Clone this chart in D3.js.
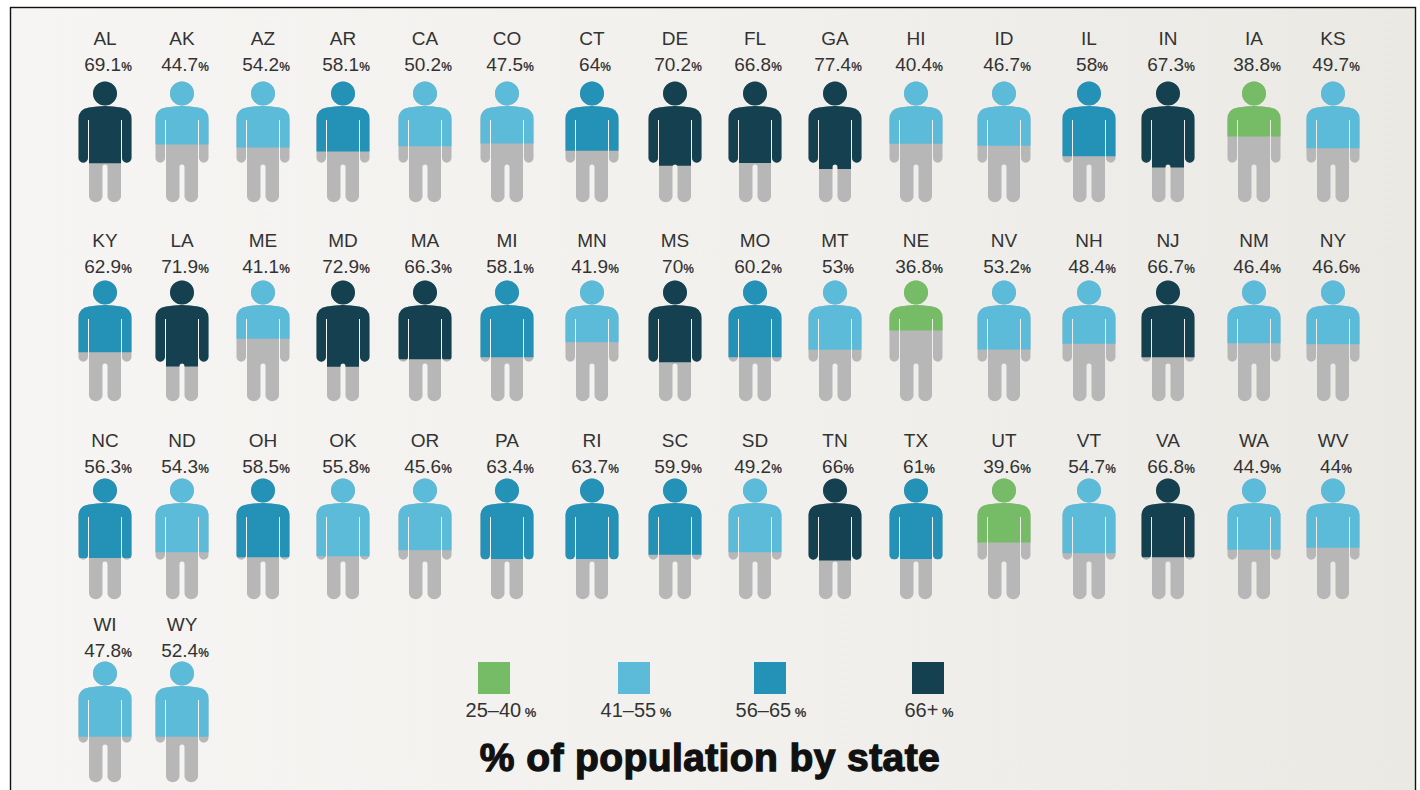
<!DOCTYPE html>
<html>
<head>
<meta charset="utf-8">
<script src="https://cdnjs.cloudflare.com/ajax/libs/d3/7.8.5/d3.min.js"></script>
<style>
html, body { margin: 0; padding: 0; background: #fff; }
text { font-family: "Liberation Sans", Arial, sans-serif; fill: #333; text-anchor: middle; }
</style>
</head>
<body>
<script>
var states = ["AL","AK","AZ","AR","CA","CO","CT","DE","FL","GA","HI","ID","IL","IN","IA","KS",
              "KY","LA","ME","MD","MA","MI","MN","MS","MO","MT","NE","NV","NH","NJ","NM","NY",
              "NC","ND","OH","OK","OR","PA","RI","SC","SD","TN","TX","UT","VT","VA","WA","WV",
              "WI","WY"];
var percents = [69.1,44.7,54.2,58.1,50.2,47.5,64,70.2,66.8,77.4,40.4,46.7,58,67.3,38.8,49.7,
                62.9,71.9,41.1,72.9,66.3,58.1,41.9,70,60.2,53,36.8,53.2,48.4,66.7,46.4,46.6,
                56.3,54.3,58.5,55.8,45.6,63.4,63.7,59.9,49.2,66,61,39.6,54.7,66.8,44.9,44,
                47.8,52.4];
// how far down the figure the colour reaches, % of figure height
// (the artwork does not follow the printed number exactly)
var fillShare = [66.7,51.2,53.7,57,52.6,50.4,56.4,68.6,66.4,71.3,50.7,52.3,60.9,70,44.6,54.3,
                 58.4,70,47.4,70.2,64.2,62.6,50.2,66.7,62.6,56.4,40.5,56.2,51.5,62.6,51,51.8,
                 64.7,60.1,64.2,63.4,58.4,65.5,65.5,62,60.1,66.9,65.5,52.1,60.9,64.2,57.9,56.4,
                 61.2,61.2];
var legendLabels = ["25\u201340","41\u201355","56\u201365","66+"];
var legendColors = ["#76bb65","#5cbbd9","#2492b6","#14404f"];
var breaks = [40,56,66];
var titleText = "% of population by state";

var W = 1420, H = 790, perRow = 16;

var svg = d3.select("body").append("svg")
    .attr("width", W).attr("height", H).style("display", "block");

var defs = svg.append("defs");
var grad = defs.append("linearGradient").attr("id", "paper");
grad.append("stop").attr("offset", "0%").attr("stop-color", "#f6f5f3");
grad.append("stop").attr("offset", "55%").attr("stop-color", "#f2f0ed");
grad.append("stop").attr("offset", "100%").attr("stop-color", "#ebe9e4");

// the little person, x centred, y from the top of the head
var personPath = "M-12,11.5a12,12 0 1,0 24,0a12,12 0 1,0 -24,0Z" +
    "M-26.5,37Q-26.5,27 -16,25.5Q0,22.5 16,25.5Q26.5,27 26.5,37V76A4.75,4.75 0 0 1 17,76V38H16V115" +
    "A7,7 0 0 1 2.5,115V85A2.5,2.5 0 0 0 -2.5,85V115A7,7 0 0 1 -16,115V38H-17V76A4.75,4.75 0 0 1 -26.5,76Z";
var figH = 122;

defs.append("path").attr("id", "person").attr("d", personPath);

svg.append("rect").attr("x", 10.5).attr("y", 7.5).attr("width", 1405).attr("height", H)
    .attr("fill", "url(#paper)").attr("stroke", "#111").attr("stroke-width", 1.4);

var colX = d3.scaleOrdinal().domain(d3.range(perRow))
    .range([105,182,263,343,425,507,592,675,755,835,916,1004,1089,1168,1254,1333]);
var rowY = d3.scaleOrdinal().domain(d3.range(4)).range([82,281,479,662]);
var labelY = d3.scaleOrdinal().domain(d3.range(4)).range([45,247,447,631]);
var fillY = d3.scaleLinear().domain([0,100]).range([0,figH]);
var color = d3.scaleThreshold().domain(breaks).range(legendColors);

var data = states.map(function(s,i){
    return {state:s, pct:percents[i], share:fillShare[i], col:i%perRow, row:Math.floor(i/perRow)};
});

defs.selectAll("clipPath").data(data).enter().append("clipPath")
    .attr("id", function(d){ return "fill-"+d.state; })
    .append("rect")
        .attr("x", -30).attr("y", -2).attr("width", 60)
        .attr("height", function(d){ return fillY(d.share)+2; });

var people = svg.selectAll("g.state").data(data).enter().append("g")
    .attr("class", "state")
    .attr("transform", function(d){ return "translate("+colX(d.col)+","+rowY(d.row)+")"; });

people.append("use").attr("href", "#person").attr("fill", "#b7b7b7");
people.append("use").attr("href", "#person")
    .attr("fill", function(d){ return color(d.pct); })
    .attr("clip-path", function(d){ return "url(#fill-"+d.state+")"; });

var labels = svg.selectAll("g.label").data(data).enter().append("g")
    .attr("class", "label")
    .attr("transform", function(d){ return "translate("+colX(d.col)+","+labelY(d.row)+")"; });

labels.append("text").attr("font-size", 19)
    .text(function(d){ return d.state; });

var pctText = labels.append("text").attr("x", 3).attr("y", 26).attr("font-size", 19);
pctText.append("tspan").text(function(d){ return d.pct; });
pctText.append("tspan").attr("font-size", 12).attr("font-weight", "bold").text("%");

// legend
var legendX = d3.scaleOrdinal().domain(legendLabels).range([494,634,770,928]);
var legendTextX = d3.scaleOrdinal().domain(legendLabels).range([501,636,771,929]);
svg.selectAll("rect.swatch").data(legendLabels).enter().append("rect")
    .attr("class", "swatch")
    .attr("x", function(d){ return legendX(d)-16; }).attr("y", 662)
    .attr("width", 32).attr("height", 32)
    .attr("fill", function(d,i){ return legendColors[i]; });
var legendText = svg.selectAll("text.legend").data(legendLabels).enter().append("text")
    .attr("class", "legend")
    .attr("x", function(d){ return legendTextX(d); }).attr("y", 717).attr("font-size", 20);
legendText.append("tspan").text(function(d){ return d; });
legendText.append("tspan").attr("font-size", 13).attr("font-weight", "bold").text(" %");

svg.append("text").attr("x", 710).attr("y", 771)
    .attr("font-size", 39).attr("font-weight", "bold").attr("letter-spacing", 0.4)
    .style("fill", "#111").style("stroke", "#111").style("stroke-width", 1.3)
    .text(titleText);
</script>
</body>
</html>
